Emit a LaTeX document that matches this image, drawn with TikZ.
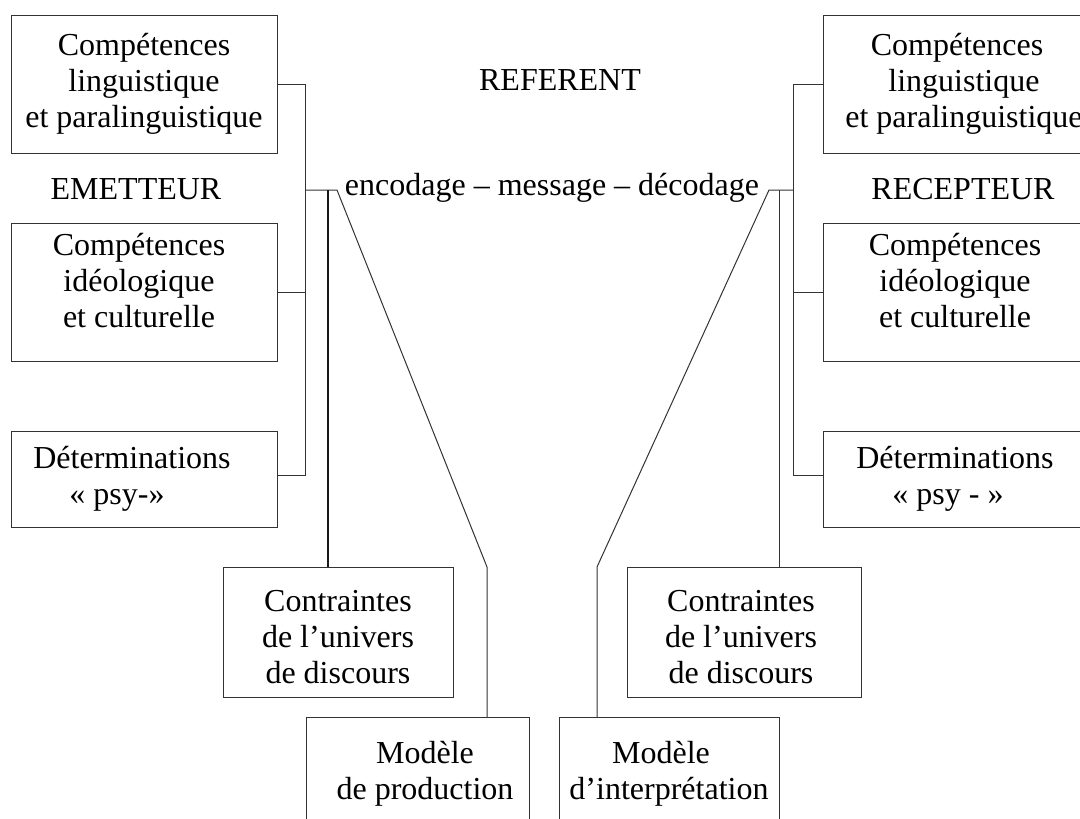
\documentclass[tikz,border=0pt]{standalone}
\usepackage{fontspec}
\setmainfont{Liberation Serif}
\begin{document}
\begin{tikzpicture}[x=1pt,y=-1pt,
  box/.style={draw=black!80, line width=1pt, inner sep=0pt, outer sep=0pt},
  lbl/.style={inner sep=0pt, align=center, anchor=north, font=\fontsize{32}{36}\selectfont},
  word/.style={inner sep=0pt, anchor=base, font=\fontsize{32}{36}\selectfont},
  link/.style={draw=black!80, line width=1pt},
  boldlink/.style={draw=black!90, line width=2pt}]

% page frame
\fill[white] (0,0) rectangle (1080,819);
\useasboundingbox (0,0) rectangle (1080,819);
\clip (0,0) rectangle (1080,819);

% ---- sender side boxes
\node[box, minimum width=266pt, minimum height=138pt] (L1) at (144,84) {};
\node[box, minimum width=266pt, minimum height=138pt] (L2) at (144,292) {};
\node[box, minimum width=266pt, minimum height=96pt]  (L3) at (144,479) {};
\node[box, minimum width=230pt, minimum height=130pt] (CL) at (338,632) {};
\node[box, minimum width=223pt, minimum height=110pt] (ML) at (417.5,772) {};

% ---- receiver side boxes
\node[box, minimum width=266pt, minimum height=138pt] (R1) at (956,84) {};
\node[box, minimum width=266pt, minimum height=138pt] (R2) at (956,292) {};
\node[box, minimum width=266pt, minimum height=96pt]  (R3) at (956,479) {};
\node[box, minimum width=234pt, minimum height=130pt] (CR) at (744,632) {};
\node[box, minimum width=220pt, minimum height=110pt] (MR) at (669,772) {};

% ---- box texts
\node[lbl] (tL1) at (144,29.8) {\strut Compétences\\linguistique\\et paralinguistique};
\node[lbl] (tL2) at (139,229.8) {\strut Compétences\\idéologique\\et culturelle};
\node[lbl] (tL3) at (132,442.8) {\strut Déterminations\\« psy-»\hspace*{30pt}};
\node[lbl] (tCL) at (338,585.8) {\strut Contraintes\\de l’univers\\de discours};
\node[lbl] (tML) at (425,737.8) {\strut Modèle\\de production};

\node[lbl] (tR1) at (964,29.8) {\strut Compétences\hspace*{14pt}\\linguistique\\et paralinguistique};
\node[lbl] (tR2) at (955,229.8) {\strut Compétences\\idéologique\\et culturelle};
\node[lbl] (tR3) at (955,442.8) {\strut Déterminations\\« psy - »\hspace*{14pt}};
\node[lbl] (tCR) at (741,585.8) {\strut Contraintes\\de l’univers\\de discours};
\node[lbl] (tMR) at (669,737.8) {\strut Modèle\hspace*{16pt}\\d’interprétation};

% ---- free labels
\node[word] (emet) at (136,199) {EMETTEUR};
\node[word] (recep) at (963,199) {RECEPTEUR};
\node[word] (refer) at (560,90) {REFERENT};
\node[word] (chain) at (552,195) {encodage – message – décodage};

% ---- junction points
\coordinate (sL) at (305,190);
\coordinate (tL) at (328,190);
\coordinate (eL) at (337,190);
\coordinate (bL) at (487,567);
\coordinate (sR) at (793,190);
\coordinate (tR) at (779,190);
\coordinate (eR) at (769,190);
\coordinate (bR) at (597,567);

% ---- sender connectors
\draw[link] (L1.east) -- (L1.east -| sL) |- ([yshift=4pt]L3.east);
\draw[link] (L2.east) -- (L2.east -| sL);
\draw[link] (sL) -- (eL) -- (bL) -- (ML.north -| bL);
\draw[boldlink] (tL) -- (CL.north -| tL);

% ---- receiver connectors
\draw[link] (R1.west) -- (R1.west -| sR) |- ([yshift=4pt]R3.west);
\draw[link] (R2.west) -- (R2.west -| sR);
\draw[link] (sR) -- (eR) -- (bR) -- (MR.north -| bR);
\draw[link] (tR) -- (CR.north -| tR);
\end{tikzpicture}
\end{document}
